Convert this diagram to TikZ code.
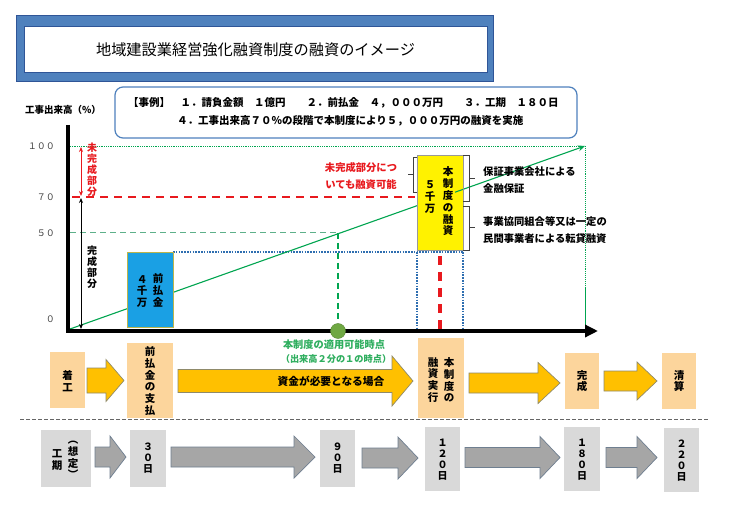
\documentclass[tikz,border=0pt]{standalone}
\usepackage{fontspec}
\setmainfont{Noto Sans CJK JP}
\usetikzlibrary{arrows.meta}
\definecolor{frameblue}{HTML}{4F81BD}
\definecolor{framedark}{HTML}{2F5597}
\definecolor{gline}{HTML}{00A550}
\definecolor{gtext}{HTML}{2EAE5E}
\definecolor{gdash}{HTML}{5DB08A}
\definecolor{bdot}{HTML}{2E6EB0}
\definecolor{cyanbox}{HTML}{1AA0E4}
\definecolor{orgbox}{HTML}{FCD59C}
\definecolor{orgarrow}{HTML}{FFC000}
\definecolor{orgedge}{HTML}{8F8A6A}
\definecolor{graybox}{HTML}{D9D9D9}
\definecolor{grayarrow}{HTML}{A6A6A6}
\definecolor{grayedge}{HTML}{6F7F90}
\definecolor{dotgreen}{HTML}{6FA843}
\definecolor{redline}{HTML}{E8191E}
\definecolor{ticktext}{HTML}{404040}
\newcommand{\fsz}[2]{\fontsize{#1}{#2}\selectfont}
% #1 style, #2 start x, #3 head start x, #4 tip x, #5 centre y, #6 shaft half, #7 head half
\newcommand{\blkarrow}[7]{\draw[#1] (#2,#5-#6) -- (#3,#5-#6) -- (#3,#5-#7) -- (#4,#5) -- (#3,#5+#7) -- (#3,#5+#6) -- (#2,#5+#6) -- cycle;}
\tikzset{
  vtext/.style={align=center, inner sep=0pt, font=\fsz{10.5}{11.8}\bfseries},
  vsmall/.style={align=center, inner sep=0pt, font=\fsz{10}{11}\bfseries},
  btxt/.style={inner sep=0pt, font=\fsz{10.3}{12}\bfseries},
  obox/.style={fill=orgbox, draw=none, inner sep=0pt},
  gbox/.style={fill=graybox, draw=none, inner sep=0pt},
  oarrow/.style={fill=orgarrow, draw=orgedge, line width=0.7pt},
  garrow/.style={fill=grayarrow, draw=grayedge, line width=0.7pt},
  ticklab/.style={anchor=east, inner sep=0pt, text=ticktext, font=\fsz{9}{10}},
  brace/.style={draw=black!75, line width=0.6pt},
  dbl/.style={line width=1pt, {Stealth[length=5pt,width=4pt]}-{Stealth[length=5pt,width=4pt]}},
}
\begin{document}
\begin{tikzpicture}[x=1pt,y=-1pt]
\fill[white] (0,0) rectangle (730,518);
\useasboundingbox (0,0) rectangle (730,518);

% title
\fill[frameblue] (16,16) rectangle (493,82);
\draw[framedark, line width=1pt] (16,16) rectangle (493,82);
\node[fill=white, draw=framedark, line width=0.8pt, minimum width=463pt, minimum height=46pt, inner sep=0pt] (title) at (255.5,49.5) {\fsz{15.2}{18}地域建設業経営強化融資制度の融資のイメージ};

% example box
\node[draw=frameblue, fill=white, line width=1.2pt, rounded corners=8pt, minimum width=462pt, minimum height=51pt] (case) at (346,112.5) {};
\node[btxt, anchor=west, font=\fsz{10.5}{12}\bfseries] (case1) at (128,103) {【事例】　１．請負金額　１億円　　２．前払金　４，０００万円　　３．工期　１８０日};
\node[btxt, anchor=west, font=\fsz{10.5}{12}\bfseries] (case2) at (177,121) {４．工事出来高７０％の段階で本制度により５，０００万円の融資を実施};

% y label and ticks
\node[btxt, font=\fsz{9.5}{11}\bfseries] (ylab) at (63,110) {工事出来高（\%）};
\node[ticklab] (t100) at (55,146) {１００};
\node[ticklab] (t70) at (55,197) {７０};
\node[ticklab] (t50) at (55,233) {５０};
\node[ticklab] (t0) at (55,319) {０};

% guide lines
\draw[gline, densely dotted, line width=0.8pt] (70,146) -- (585,146);
\draw[gline, densely dotted, line width=0.9pt] (585,146) -- (585,287);
\draw[gline, line width=1pt] (585,287) -- (585,330);
\draw[redline, line width=2.5pt, dash pattern=on 8pt off 6pt] (72,197) -- (415,197);
\draw[gdash, line width=1pt, dash pattern=on 6pt off 4pt] (70,233) -- (338,233);
\draw[gline, line width=1.1pt, dash pattern=on 6pt off 4pt] (338,233) -- (338,323);
\draw[bdot, line width=1.6pt, dash pattern=on 1.6pt off 1.2pt] (173,252) -- (463,252);
\draw[bdot, line width=1.3pt, dash pattern=on 1.6pt off 1.2pt] (417,252) -- (417,330);
\draw[bdot, line width=1.3pt, dash pattern=on 1.6pt off 1.2pt] (463,252) -- (463,330);
\draw[redline, line width=3.5pt, dash pattern=on 9pt off 7pt] (440,256) -- (440,330);

% progress line
\draw[gline, line width=1.1pt, -{Stealth[length=7pt,width=6pt]}] (70,329) -- (585,146);

% boxes in chart
\node[fill=cyanbox, draw=olive!60, line width=0.5pt, minimum width=46pt, minimum height=75pt, inner sep=0pt] (maebox) at (150,289.5) {};
\node[vtext] (maebox1) at (158,290.5) {前\\払\\金};
\node[vtext] (maebox2) at (142,291.5) {４\\千\\万};
\node[fill=yellow, draw=black!40, line width=0.5pt, minimum width=46pt, minimum height=95pt, inner sep=0pt] (ybox) at (440,202.5) {};
\draw[gline, line width=1.1pt] (455,192.2) -- (463,189.4);
\node[vtext] (ybox1) at (448,201.5) {本\\制\\度\\の\\融\\資};
\node[vtext] (ybox2) at (430,197) {５\\千\\万};

% braces
\draw[brace] (417,157) -- (413,157) -- (413,192) -- (417,192);
\draw[brace] (413,174) -- (408,174);
\draw[brace] (463,155) -- (469,155) -- (469,201) -- (463,201);
\draw[brace] (469,178) -- (475,178);
\draw[brace] (463,206) -- (469,206) -- (469,250) -- (463,250);
\draw[brace] (469,227) -- (475,227);

\node[btxt, text=redline] (mikan1) at (361,168) {未完成部分につ};
\node[btxt, text=redline] (mikan2) at (361,185) {いても融資可能};
\node[btxt, anchor=west] (hosho1) at (483,172) {保証事業会社による};
\node[btxt, anchor=west] (hosho2) at (483,189) {金融保証};
\node[btxt, anchor=west] (tentai1) at (483,222) {事業協同組合等又は一定の};
\node[btxt, anchor=west] (tentai2) at (483,239) {民間事業者による転貸融資};

% axes
\draw[line width=4pt] (68,125) -- (68,333);
\draw[line width=4pt, -{Triangle[length=13pt,width=12pt]}] (66,331) -- (598,331);

% point
\node[circle, fill=dotgreen, draw=dotgreen!80!black, minimum size=15pt, inner sep=0pt] (pt50) at (338,331) {};

% done / not done arrows
\draw[redline, dbl] (81,147) -- (81,196);
\draw[black, dbl] (81,198) -- (81,329);
\node[vsmall, text=redline] (mikanv) at (92,170) {未\\完\\成\\部\\分};
\node[vsmall] (kanv) at (92,267) {完\\成\\部\\分};

% green note
\node[btxt, text=gtext, font=\fsz{10.2}{12}\bfseries] (note1) at (334,345) {本制度の適用可能時点};
\node[btxt, text=gtext, font=\fsz{9.2}{11}\bfseries] (note2) at (336,359) {（出来高２分の１の時点）};

% flow row
\node[obox, minimum width=35pt, minimum height=56pt] (chakko) at (67.5,380) {};
\node[vtext] (chakkot) at (67.5,381) {着\\工};
\node[obox, minimum width=46pt, minimum height=75pt] (maebarai) at (150,380.5) {};
\node[vtext] (maebaraiT) at (150,381) {前\\払\\金\\の\\支\\払};
\node[obox, minimum width=46pt, minimum height=80pt] (jikko) at (441,378) {};
\node[vtext] (jikko1) at (449,380) {本\\制\\度\\の};
\node[vtext] (jikko2) at (433,380) {融\\資\\実\\行};
\node[obox, minimum width=34pt, minimum height=56pt] (kansei) at (582,381) {};
\node[vtext] (kanseiT) at (582,381) {完\\成};
\node[obox, minimum width=34pt, minimum height=56pt] (seisan) at (679,381) {};
\node[vtext] (seisanT) at (679,381) {清\\算};

\blkarrow{oarrow}{87}{106}{124}{380.5}{12.5}{21}
\blkarrow{oarrow}{178}{392}{413}{381}{11.5}{25}
\blkarrow{oarrow}{469}{538}{560}{383}{10}{20.5}
\blkarrow{oarrow}{604}{637}{657}{381}{10}{19}
\node[btxt, font=\fsz{10.7}{12}\bfseries] (need) at (331,381) {資金が必要となる場合};

% separator
\draw[black!60, line width=0.8pt, dash pattern=on 4pt off 2pt] (20,419) -- (708,419);

% schedule row
\node[gbox, minimum width=50pt, minimum height=57pt] (koki) at (66,458.5) {};
\node[vtext] (koki1) at (57,460) {工\\期};
\node[vtext] (koki2) at (73,460) {︵\\想\\定\\︶};
\node[gbox, minimum width=36pt, minimum height=57pt] (d30) at (148,458.5) {};
\node[vsmall] (d30t) at (148,458.5) {３\\０\\日};
\node[gbox, minimum width=35pt, minimum height=57pt] (d90) at (337.5,458.5) {};
\node[vsmall] (d90t) at (337.5,458.5) {９\\０\\日};
\node[gbox, minimum width=35pt, minimum height=64pt] (d120) at (442.5,459) {};
\node[vsmall] (d120t) at (442.5,460) {１\\２\\０\\日};
\node[gbox, minimum width=36pt, minimum height=64pt] (d180) at (582,459) {};
\node[vsmall] (d180t) at (582,460) {１\\８\\０\\日};
\node[gbox, minimum width=35pt, minimum height=64pt] (d220) at (681.5,460) {};
\node[vsmall] (d220t) at (681.5,461) {２\\２\\０\\日};

\blkarrow{garrow}{95}{110}{126}{457}{10}{21}
\blkarrow{garrow}{171}{294}{315}{457}{10}{21}
\blkarrow{garrow}{362}{398}{418}{458}{10}{21}
\blkarrow{garrow}{465}{540}{560}{457.5}{10}{21}
\blkarrow{garrow}{606}{637}{657}{457.5}{10}{21}
\end{tikzpicture}
\end{document}
